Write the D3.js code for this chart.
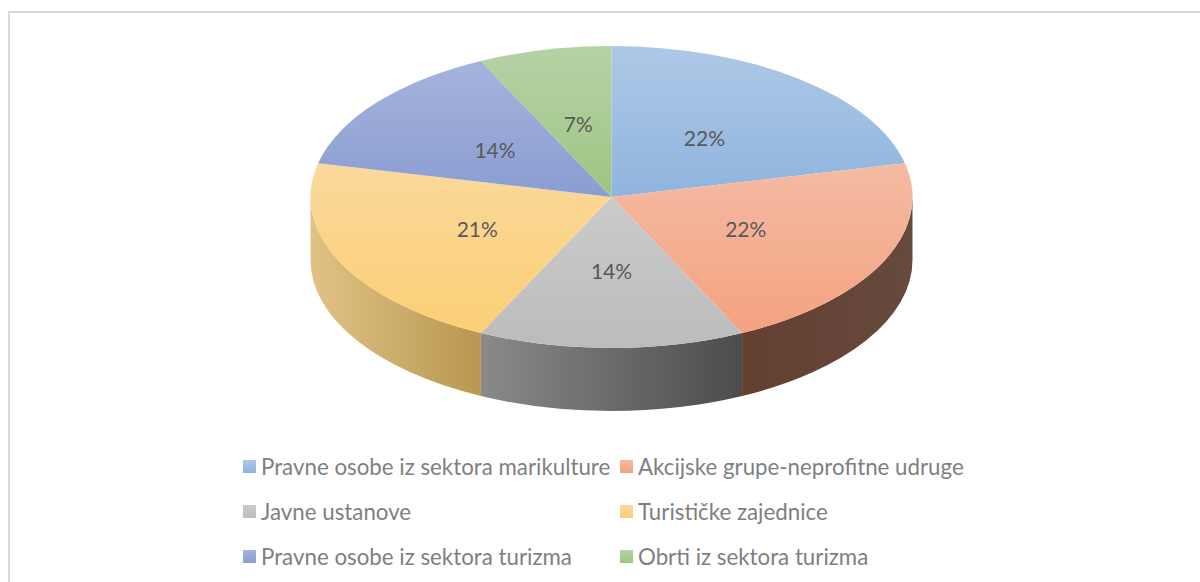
<!DOCTYPE html>
<html><head><meta charset="utf-8">
<script src="https://cdn.jsdelivr.net/npm/d3@7"></script>
<style>html,body{margin:0;padding:0;background:#fff}svg{display:block}</style>
</head><body><div id="c"></div>
<script>
const categories = ["Pravne osobe iz sektora marikulture","Akcijske grupe-neprofitne udruge","Javne ustanove","Turističke zajednice","Pravne osobe iz sektora turizma","Obrti iz sektora turizma"];
const values = [3,3,2,3,2,1];
const labels = ["22%","22%","14%","21%","14%","7%"];
const topLight = ["#aec8e6","#f4bba4","#cbcbcb","#fbd99c","#a5b4dc","#b5d2a5"];
const topDark = ["#8fb4de","#f4a27f","#bcbcbc","#fbcf75","#8a9dd2","#9dc583"];
const sideLeft = ["#8fb4de","#643f30","#8a8a8a","#e0c285","#8a9dd2","#9dc583"];
const sideRight = ["#8fb4de","#664a3e","#4c4c4c","#b89850","#8a9dd2","#9dc583"];

const W=1200,H=582, cx=611.5, cy=197, rx=301, ry=151, depth=63;
const svg=d3.select("#c").append("svg").attr("width",W).attr("height",H);
const defs=svg.append("defs");
const font="Lato, Carlito, sans-serif";

svg.append("path").attr("d",d3.line()([[9,H],[9,12],[W,12]])).attr("fill","none").attr("stroke","#d9d9d9").attr("stroke-width",2);

const pie=d3.pie().sort(null).value(d=>d);
const arcs=pie(values);
const px=a=>cx+rx*Math.sin(a), py=a=>cy-ry*Math.cos(a);
const arcGen=d3.arc().innerRadius(0).outerRadius(1);

// side walls: front half only
arcs.forEach((d,i)=>{
  const a0=Math.max(d.startAngle,Math.PI/2), a1=Math.min(d.endAngle,Math.PI*1.5);
  if(a1<=a0) return;
  const id="side"+i;
  const g=defs.append("linearGradient").attr("id",id).attr("gradientUnits","userSpaceOnUse")
    .attr("x1",Math.min(px(a0),px(a1))).attr("x2",Math.max(px(a0),px(a1))).attr("y1",0).attr("y2",0);
  g.append("stop").attr("offset",0).attr("stop-color",sideLeft[i]);
  g.append("stop").attr("offset",1).attr("stop-color",sideRight[i]);
  const p=`M${px(a0)},${py(a0)}A${rx},${ry} 0 0 1 ${px(a1)},${py(a1)}L${px(a1)},${py(a1)+depth}A${rx},${ry} 0 0 0 ${px(a0)},${py(a0)+depth}Z`;
  svg.append("path").attr("d",p).attr("fill",`url(#${id})`);
});
// top faces
const topG=svg.append("g").attr("transform",`translate(${cx},${cy}) scale(${rx},${ry})`);
arcs.forEach((d,i)=>{
  const id="top"+i;
  const g=defs.append("linearGradient").attr("id",id).attr("x1",0).attr("x2",0).attr("y1",0).attr("y2",1);
  g.append("stop").attr("offset",0).attr("stop-color",topLight[i]);
  g.append("stop").attr("offset",1).attr("stop-color",topDark[i]);
  topG.append("path").attr("d",arcGen(d)).attr("fill",`url(#${id})`);
});
// data labels
const labelK=0.495;
svg.selectAll("text.lab").data(arcs).enter().append("text").attr("class","lab")
  .attr("x",d=>{const m=(d.startAngle+d.endAngle)/2;return cx+labelK*rx*Math.sin(m)})
  .attr("y",d=>{const m=(d.startAngle+d.endAngle)/2;return cy-labelK*ry*Math.cos(m)+7.5})
  .attr("text-anchor","middle").attr("font-family",font).attr("font-size",21).attr("fill","#595959")
  .text((d,i)=>labels[i]);

// legend
const colX=d3.scaleOrdinal().domain([0,1]).range([243,620]);
const rowY=d3.scaleOrdinal().domain([0,1,2]).range([467,512,557]);
categories.forEach((c,i)=>{
  const col=i%2,row=Math.floor(i/2);
  const id="leg"+i;
  const g=defs.append("linearGradient").attr("id",id).attr("x1",0).attr("x2",0).attr("y1",0).attr("y2",1);
  g.append("stop").attr("offset",0).attr("stop-color",topLight[i]);
  g.append("stop").attr("offset",1).attr("stop-color",topDark[i]);
  svg.append("rect").attr("x",colX(col)).attr("y",rowY(row)-7).attr("width",13).attr("height",13).attr("fill",`url(#${id})`);
  svg.append("text").attr("x",colX(col)+18).attr("y",rowY(row)+7.5).attr("font-family",font).attr("font-size",22.3)
    .attr("fill","#7f7f7f").text(c);
});
</script></body></html>
